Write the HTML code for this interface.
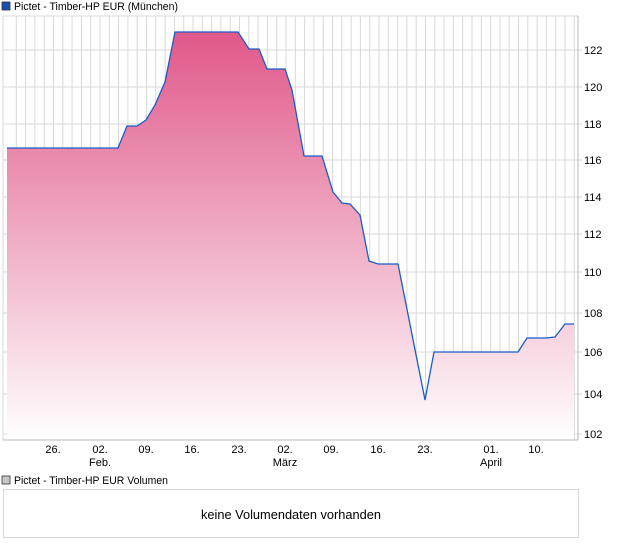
<!DOCTYPE html>
<html><head><meta charset="utf-8"><style>
html,body{margin:0;padding:0;background:#fff;}
svg{display:block;font-family:"Liberation Sans",sans-serif;}
</style></head><body>
<svg width="620" height="546" viewBox="0 0 620 546" xmlns="http://www.w3.org/2000/svg">
<defs>
<linearGradient id="g" x1="0" y1="0" x2="0" y2="1">
<stop offset="0" stop-color="#e0588a"/>
<stop offset="1" stop-color="#ffffff"/>
</linearGradient>
</defs>
<rect x="2" y="2" width="8" height="8" fill="#1a4fb0" stroke="#333" stroke-width="0.8"/>
<text x="14" y="10" font-size="11" fill="#000" textLength="164" lengthAdjust="spacingAndGlyphs">Pictet - Timber-HP EUR (München)</text>
<g stroke="#d8d8d8" stroke-width="1">
<line x1="3" y1="16" x2="3" y2="440"/>
<line x1="16.3" y1="16" x2="16.3" y2="440"/><line x1="25.6" y1="16" x2="25.6" y2="440"/><line x1="34.9" y1="16" x2="34.9" y2="440"/><line x1="44.2" y1="16" x2="44.2" y2="440"/><line x1="53.5" y1="16" x2="53.5" y2="440"/><line x1="62.8" y1="16" x2="62.8" y2="440"/><line x1="72.1" y1="16" x2="72.1" y2="440"/><line x1="81.4" y1="16" x2="81.4" y2="440"/><line x1="90.7" y1="16" x2="90.7" y2="440"/><line x1="100" y1="16" x2="100" y2="440"/><line x1="109.3" y1="16" x2="109.3" y2="440"/><line x1="118.6" y1="16" x2="118.6" y2="440"/><line x1="127.9" y1="16" x2="127.9" y2="440"/><line x1="137.2" y1="16" x2="137.2" y2="440"/><line x1="146.5" y1="16" x2="146.5" y2="440"/><line x1="155.8" y1="16" x2="155.8" y2="440"/><line x1="165.1" y1="16" x2="165.1" y2="440"/><line x1="174.4" y1="16" x2="174.4" y2="440"/><line x1="183.7" y1="16" x2="183.7" y2="440"/><line x1="193" y1="16" x2="193" y2="440"/><line x1="202.3" y1="16" x2="202.3" y2="440"/><line x1="211.6" y1="16" x2="211.6" y2="440"/><line x1="220.9" y1="16" x2="220.9" y2="440"/><line x1="230.2" y1="16" x2="230.2" y2="440"/><line x1="239.5" y1="16" x2="239.5" y2="440"/><line x1="248.8" y1="16" x2="248.8" y2="440"/><line x1="258.1" y1="16" x2="258.1" y2="440"/><line x1="267.4" y1="16" x2="267.4" y2="440"/><line x1="276.7" y1="16" x2="276.7" y2="440"/><line x1="286" y1="16" x2="286" y2="440"/><line x1="295.3" y1="16" x2="295.3" y2="440"/><line x1="304.6" y1="16" x2="304.6" y2="440"/><line x1="313.9" y1="16" x2="313.9" y2="440"/><line x1="323.2" y1="16" x2="323.2" y2="440"/><line x1="332.5" y1="16" x2="332.5" y2="440"/><line x1="341.8" y1="16" x2="341.8" y2="440"/><line x1="351.1" y1="16" x2="351.1" y2="440"/><line x1="360.4" y1="16" x2="360.4" y2="440"/><line x1="369.7" y1="16" x2="369.7" y2="440"/><line x1="379" y1="16" x2="379" y2="440"/><line x1="388.3" y1="16" x2="388.3" y2="440"/><line x1="397.6" y1="16" x2="397.6" y2="440"/><line x1="406.9" y1="16" x2="406.9" y2="440"/><line x1="416.2" y1="16" x2="416.2" y2="440"/><line x1="425.5" y1="16" x2="425.5" y2="440"/><line x1="434.8" y1="16" x2="434.8" y2="440"/><line x1="444.1" y1="16" x2="444.1" y2="440"/><line x1="453.4" y1="16" x2="453.4" y2="440"/><line x1="462.7" y1="16" x2="462.7" y2="440"/><line x1="472" y1="16" x2="472" y2="440"/><line x1="481.3" y1="16" x2="481.3" y2="440"/><line x1="490.6" y1="16" x2="490.6" y2="440"/><line x1="499.9" y1="16" x2="499.9" y2="440"/><line x1="509.2" y1="16" x2="509.2" y2="440"/><line x1="518.5" y1="16" x2="518.5" y2="440"/><line x1="527.8" y1="16" x2="527.8" y2="440"/><line x1="537.1" y1="16" x2="537.1" y2="440"/><line x1="546.4" y1="16" x2="546.4" y2="440"/><line x1="555.7" y1="16" x2="555.7" y2="440"/><line x1="565" y1="16" x2="565" y2="440"/><line x1="574.3" y1="16" x2="574.3" y2="440"/>
<line x1="3" y1="50" x2="582" y2="50"/><line x1="3" y1="87" x2="582" y2="87"/><line x1="3" y1="124" x2="582" y2="124"/><line x1="3" y1="160" x2="582" y2="160"/><line x1="3" y1="197" x2="582" y2="197"/><line x1="3" y1="234" x2="582" y2="234"/><line x1="3" y1="272" x2="582" y2="272"/><line x1="3" y1="313" x2="582" y2="313"/><line x1="3" y1="352" x2="582" y2="352"/><line x1="3" y1="394" x2="582" y2="394"/><line x1="3" y1="434" x2="582" y2="434"/>
<line x1="3" y1="16" x2="578" y2="16"/>
</g>
<path d="M7,148 L118,148 L127,126 L137,126 L146,120 L155,105 L165,82 L175,32 L238,32 L249,49 L259,49 L267,69 L285,69 L292,90 L304,156 L322,156 L333,192 L342,203 L350,204 L360,215 L369,261 L378,264 L398,264 L425,400 L434,352 L518,352 L527,338 L546,338 L555,337 L565,324 L574,324 L574,440 L7,440 Z" fill="url(#g)"/>
<path d="M7,148 L118,148 L127,126 L137,126 L146,120 L155,105 L165,82 L175,32 L238,32 L249,49 L259,49 L267,69 L285,69 L292,90 L304,156 L322,156 L333,192 L342,203 L350,204 L360,215 L369,261 L378,264 L398,264 L425,400 L434,352 L518,352 L527,338 L546,338 L555,337 L565,324 L574,324" fill="none" stroke="#1a5cc8" stroke-width="1.3"/>
<line x1="578" y1="16" x2="578" y2="440" stroke="#bbb"/>
<line x1="3" y1="440" x2="578" y2="440" stroke="#bbb"/>
<g font-size="11" fill="#000">
<text x="584" y="54">122</text><text x="584" y="91">120</text><text x="584" y="128">118</text><text x="584" y="164">116</text><text x="584" y="201">114</text><text x="584" y="238">112</text><text x="584" y="276">110</text><text x="584" y="317">108</text><text x="584" y="356">106</text><text x="584" y="398">104</text><text x="584" y="438">102</text>
</g>
<g font-size="11" fill="#000" text-anchor="middle">
<text x="53" y="453">26.</text><text x="100" y="453">02.</text><text x="146" y="453">09.</text><text x="192" y="453">16.</text><text x="239" y="453">23.</text><text x="285" y="453">02.</text><text x="331" y="453">09.</text><text x="378" y="453">16.</text><text x="425" y="453">23.</text><text x="491" y="453">01.</text><text x="536" y="453">10.</text>
<text x="100" y="466">Feb.</text><text x="285" y="466">März</text><text x="491" y="466">April</text>
</g>
<rect x="2" y="476" width="8" height="8" fill="#c8c8c8" stroke="#333" stroke-width="0.8"/>
<text x="14" y="484" font-size="11" fill="#000" textLength="154" lengthAdjust="spacingAndGlyphs">Pictet - Timber-HP EUR Volumen</text>
<rect x="3.5" y="489.5" width="575" height="48" fill="#fff" stroke="#d8d8d8"/>
<text x="291" y="519" font-size="13" fill="#000" text-anchor="middle" textLength="180" lengthAdjust="spacingAndGlyphs">keine Volumendaten vorhanden</text>
</svg>
</body></html>
